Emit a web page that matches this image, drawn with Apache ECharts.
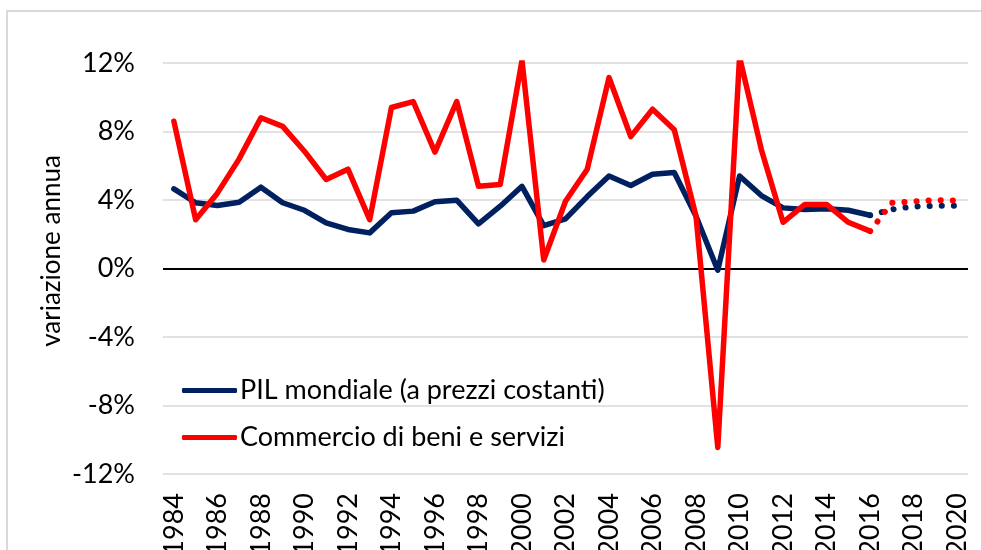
<!DOCTYPE html>
<html>
<head>
<meta charset="utf-8">
<script src="https://cdn.jsdelivr.net/npm/echarts@6/dist/echarts.min.js"></script>
<style>
html,body{margin:0;padding:0;background:#fff;}
#c{width:981px;height:550px;}
</style>
</head>
<body>
<div id="c"></div>
<script>
const years = ['1984','1985','1986','1987','1988','1989','1990','1991','1992','1993','1994','1995','1996','1997','1998','1999','2000','2001','2002','2003','2004','2005','2006','2007','2008','2009','2010','2011','2012','2013','2014','2015','2016','2017','2018','2019','2020'];
const pil = [4.65,3.84,3.68,3.87,4.75,3.84,3.4,2.67,2.28,2.08,3.25,3.35,3.9,3.99,2.61,3.64,4.8,2.5,2.9,4.2,5.4,4.85,5.5,5.6,3.05,-0.1,5.4,4.26,3.54,3.45,3.49,3.4,3.11];
const commercio = [8.6,2.85,4.4,6.4,8.8,8.3,6.85,5.2,5.8,2.85,9.4,9.75,6.8,9.75,4.8,4.9,12.15,0.5,3.93,5.8,11.15,7.7,9.3,8.1,3.05,-10.45,12.35,6.95,2.7,3.74,3.74,2.7,2.18];
const forecastStart = '2016';
const pilPrevisione = [3.11,3.45,3.62,3.66,3.66];
const commercioPrevisione = [2.18,3.84,3.91,3.99,3.97];
const yTicks = {min:-12, max:12, interval:4};
const nomePil = 'PIL mondiale (a prezzi costanti)';
const nomeCommercio = 'Commercio di beni e servizi';
const yTitle = 'variazione annua';

const startIdx = years.indexOf(forecastStart);
function pad(arr){ const out = new Array(startIdx).fill(null); return out.concat(arr); }

const FONT = 'Lato';
const FS = 27;
const chart = echarts.init(document.getElementById('c'), null, {renderer:'canvas'});
chart.setOption({
  animation:false,
  backgroundColor:'#fff',
  textStyle:{fontFamily:FONT},
  grid:{left:163, right:13, top:63, bottom:76, containLabel:false, outerBoundsMode:'none'},
  graphic:[
    {type:'rect', shape:{x:7, y:11, width:1000, height:600}, style:{fill:null, stroke:'#d9d9d9', lineWidth:2}, silent:true},
    {type:'text', x:52, y:251, rotation:Math.PI/2, style:{text:yTitle, fill:'#000', font:'26px Lato', textAlign:'center', textVerticalAlign:'middle'}}
  ],
  legend:{
    data:[nomePil, nomeCommercio],
    orient:'vertical', left:182, top:377, itemGap:20, padding:0,
    itemWidth:55, itemHeight:5, icon:'roundRect', itemStyle:{borderWidth:0},
    textStyle:{fontFamily:FONT, fontSize:FS, lineHeight:27, color:'#000', padding:[0,0,0,-2]},
    selectedMode:false
  },
  xAxis:{
    type:'category', data:years, boundaryGap:true,
    axisLine:{show:false}, axisTick:{show:false},
    axisLabel:{interval:1, rotate:90, color:'#000', fontSize:FS, fontFamily:FONT, margin:19}
  },
  yAxis:{
    type:'value', min:yTicks.min, max:yTicks.max, interval:yTicks.interval,
    axisLine:{show:false}, axisTick:{show:false},
    splitLine:{lineStyle:{color:'#d9d9d9', width:1.5}},
    axisLabel:{formatter:'{value}%', color:'#000', fontSize:FS, fontFamily:FONT, margin:28}
  },
  series:[
    {name:nomePil, type:'line', data:pil, symbol:'none', color:'#002060',
     lineStyle:{width:5.5, color:'#002060', cap:'round', join:'round'}, z:3,
     markLine:{silent:true, symbol:'none', label:{show:false}, lineStyle:{color:'#000', width:2, type:'solid'}, data:[{yAxis:0}], z:2}},
    {name:nomeCommercio, type:'line', data:commercio, symbol:'none', color:'#ff0000',
     lineStyle:{width:5.5, color:'#ff0000', cap:'round', join:'round'}, z:4},
    {name:'PIL previsione', type:'line', data:pad(pilPrevisione), symbol:'none',
     lineStyle:{width:6, color:'#002060', type:[0.1,12], cap:'round'}, z:3},
    {name:'Commercio previsione', type:'line', data:pad(commercioPrevisione), symbol:'none',
     lineStyle:{width:6, color:'#ff0000', type:[0.1,12], cap:'round'}, z:4}
  ]
});
</script>
</body>
</html>
